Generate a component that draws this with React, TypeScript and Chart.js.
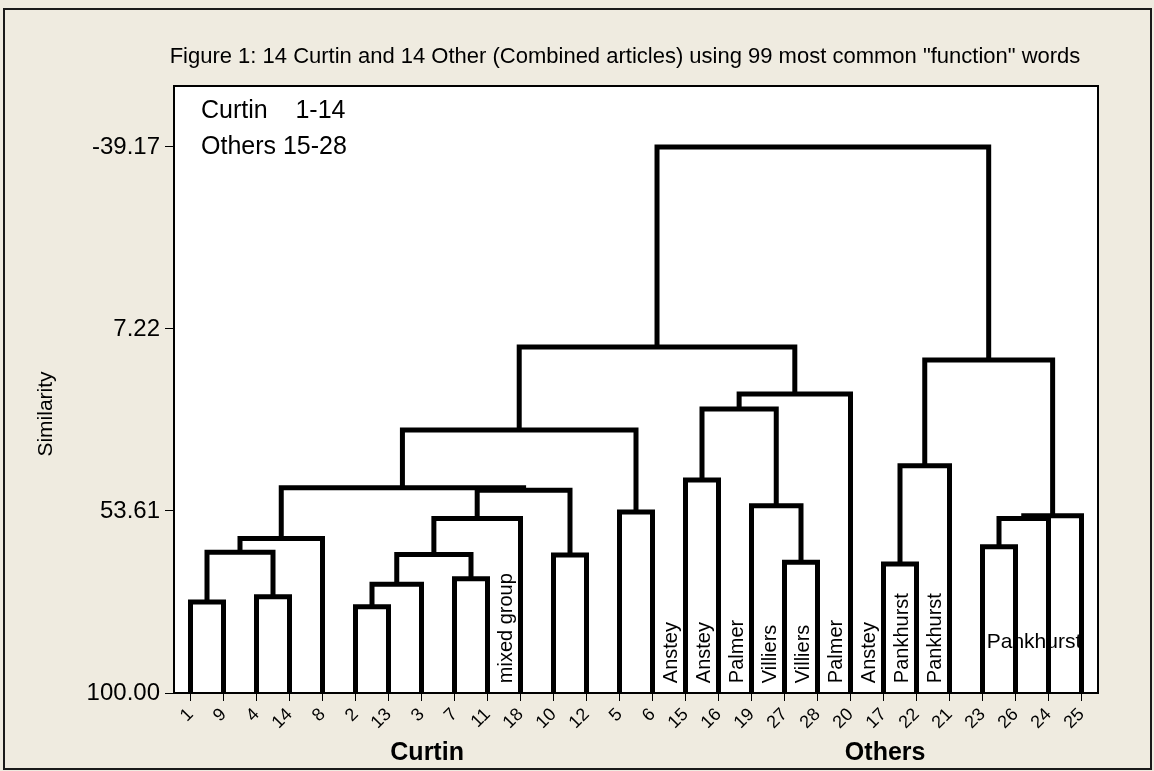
import React, { useEffect, useRef } from "react";
import { Chart, registerables } from "chart.js";

Chart.register(...registerables);

// ---------- data ----------
const leafLabels = [
  "1", "9", "4", "14", "8", "2", "13", "3", "7", "11", "18", "10", "12", "5",
  "6", "15", "16", "19", "27", "28", "20", "17", "22", "21", "23", "26", "24", "25",
];

// Linkage: "L<n>" = leaf n, "M<k>" = merge k
const mergeLeft = [
  "L1", "L4", "M0", "M2", "L2", "M4", "L7", "M5", "M7", "L10", "M8", "M3", "L5", "M11",
  "L15", "L27", "L19", "M14", "M17", "M13", "L17", "M20", "L23", "M22", "M23", "M21", "M19",
];
const mergeRight = [
  "L9", "L14", "M1", "L8", "L13", "L3", "L11", "M6", "L18", "L12", "M9", "M10", "L6", "M12",
  "L16", "L28", "M15", "M16", "L20", "M18", "L22", "L21", "L26", "L24", "L25", "M24", "M25",
];
const mergeHeight = [
  76.8, 75.5, 64.1, 60.6, 78.0, 72.3, 70.9, 64.7, 55.5, 64.8, 48.3, 47.7, 53.9, 33.0,
  45.7, 66.7, 52.3, 27.6, 23.8, 11.8, 67.1, 42.1, 62.7, 55.5, 54.8, 15.1, -39.17,
];

const yTickValues = [-39.17, 7.22, 53.61, 100.0];
const yMin = -54.7;
const yMax = 100;

const titleText =
  'Figure 1: 14 Curtin and 14 Other (Combined articles) using 99 most common "function" words';
const yAxisTitle = "Similarity";
const legendLines = ["Curtin    1-14", "Others 15-28"];

const groupNames = ["Curtin", "Others"];
const noteLeaves = ["18", "15", "16", "19", "27", "28", "20", "17", "22", "21"];
const noteTexts = [
  "mixed group", "Anstey", "Anstey", "Palmer", "Villiers", "Villiers", "Palmer",
  "Anstey", "Pankhurst", "Pankhurst",
];
const flatNote = "Pankhurst";

// ---------- layout (not data) ----------
const FONT = "'Liberation Sans', Arial, sans-serif";
const BG = "#EFEBE0";
const layoutPos = {
  groupCenters: [7.17, 21.05], // in leaf-index units
  flatNoteX: 25.56,
  flatNoteY: 88.5,
  noteBottomValue: 97.5,
  noteOffsetPx: -14,
};

// ---------- build segments ----------
function buildSegments() {
  const xs: number[] = [];
  const hs: number[] = [];
  const pos = (id: string) => {
    const n = id.slice(1);
    if (id[0] === "L") return { x: leafLabels.indexOf(n), h: 100 };
    const k = parseInt(n, 10);
    return { x: xs[k], h: hs[k] };
  };
  const segs: { x: number; y: number }[][] = [];
  for (let k = 0; k < mergeHeight.length; k++) {
    const l = pos(mergeLeft[k]);
    const r = pos(mergeRight[k]);
    const h = mergeHeight[k];
    xs[k] = (l.x + r.x) / 2;
    hs[k] = h;
    segs.push([
      { x: l.x, y: l.h },
      { x: l.x, y: h },
      { x: r.x, y: h },
      { x: r.x, y: r.h },
    ]);
  }
  return segs;
}

const decor = {
  id: "decor",
  beforeDraw(chart: any) {
    const { ctx, chartArea: a, width, height } = chart;
    ctx.save();
    ctx.fillStyle = BG;
    ctx.fillRect(0, 0, width, height);
    ctx.fillStyle = "#ffffff";
    ctx.fillRect(a.left, a.top, a.right - a.left, a.bottom - a.top);
    ctx.strokeStyle = "#1a1a1a";
    ctx.lineWidth = 2;
    ctx.strokeRect(4, 9, width - 7, height - 11);
    ctx.restore();
  },
  beforeDatasetsDraw(chart: any) {
    const { ctx } = chart;
    const xs = chart.scales.x;
    const ys = chart.scales.y;
    ctx.save();
    ctx.fillStyle = "#000";
    ctx.font = `20px ${FONT}`;
    const yb = ys.getPixelForValue(layoutPos.noteBottomValue);
    noteLeaves.forEach((leaf, i) => {
      const x = xs.getPixelForValue(leafLabels.indexOf(leaf)) + layoutPos.noteOffsetPx;
      ctx.save();
      ctx.translate(x, yb);
      ctx.rotate(-Math.PI / 2);
      ctx.textAlign = "left";
      ctx.textBaseline = "middle";
      ctx.fillText(noteTexts[i], 0, 0);
      ctx.restore();
    });
    ctx.textAlign = "center";
    ctx.textBaseline = "alphabetic";
    ctx.font = `21px ${FONT}`;
    ctx.fillText(
      flatNote,
      xs.getPixelForValue(layoutPos.flatNoteX),
      ys.getPixelForValue(layoutPos.flatNoteY)
    );
    ctx.restore();
  },
  afterDraw(chart: any) {
    const { ctx, chartArea: a } = chart;
    const xs = chart.scales.x;
    ctx.save();
    ctx.strokeStyle = "#000";
    ctx.lineWidth = 2;
    ctx.strokeRect(a.left, a.top, a.right - a.left, a.bottom - a.top);

    ctx.fillStyle = "#000";
    // title
    ctx.font = `22px ${FONT}`;
    ctx.textAlign = "center";
    ctx.textBaseline = "middle";
    ctx.fillText(titleText, 625, 57);

    // y axis title
    ctx.save();
    ctx.translate(46, 414);
    ctx.rotate(-Math.PI / 2);
    ctx.font = `21px ${FONT}`;
    ctx.textAlign = "center";
    ctx.textBaseline = "middle";
    ctx.fillText(yAxisTitle, 0, 0);
    ctx.restore();

    // legend text
    ctx.font = `25px ${FONT}`;
    ctx.textAlign = "left";
    ctx.textBaseline = "alphabetic";
    ctx.fillText(legendLines[0], a.left + 27, a.top + 32);
    ctx.fillText(legendLines[1], a.left + 27, a.top + 68);

    // group labels
    ctx.font = `bold 25px ${FONT}`;
    ctx.textAlign = "center";
    groupNames.forEach((g, i) => {
      ctx.fillText(g, xs.getPixelForValue(layoutPos.groupCenters[i]), 760);
    });
    ctx.restore();
  },
};

export default function App() {
  const ref = useRef<HTMLCanvasElement | null>(null);
  useEffect(() => {
    if (!ref.current) return;
    const segs = buildSegments();
    const chart = new Chart(ref.current, {
      type: "scatter",
      data: {
        datasets: segs.map((s) => ({
          data: s,
          showLine: true,
          borderColor: "#000",
          backgroundColor: "#000",
          borderWidth: 5,
          pointRadius: 0,
          pointHoverRadius: 0,
          borderJoinStyle: "miter" as const,
          borderCapStyle: "butt" as const,
          tension: 0,
          fill: false,
        })),
      },
      options: {
        animation: false,
        responsive: false,
        devicePixelRatio: 1,
        events: [],
        layout: { padding: { left: 0, top: 86, right: 56, bottom: 0 } },
        plugins: {
          legend: { display: false },
          tooltip: { enabled: false },
          title: { display: false },
        },
        scales: {
          x: {
            type: "linear",
            min: -0.5,
            max: 27.5,
            afterBuildTicks: (s: any) => {
              s.ticks = leafLabels.map((_, i) => ({ value: i }));
            },
            afterFit: (s: any) => {
              s.height = 78;
            },
            ticks: {
              autoSkip: false,
              minRotation: 45,
              maxRotation: 45,
              padding: 3,
              color: "#000",
              font: { family: FONT, size: 18 },
              callback: (v: any) => leafLabels[Math.round(Number(v))] ?? "",
            },
            grid: {
              drawOnChartArea: false,
              drawTicks: true,
              tickLength: 8,
              color: "#000",
              lineWidth: 1,
            },
            border: { display: true, color: "#000", width: 2 },
          },
          y: {
            type: "linear",
            reverse: true,
            min: yMin,
            max: yMax,
            afterBuildTicks: (s: any) => {
              s.ticks = yTickValues.map((v) => ({ value: v }));
            },
            afterFit: (s: any) => {
              s.width = 174;
            },
            ticks: {
              autoSkip: false,
              padding: 5,
              color: "#000",
              font: { family: FONT, size: 24 },
              callback: (v: any) => Number(v).toFixed(2),
            },
            grid: {
              drawOnChartArea: false,
              drawTicks: true,
              tickLength: 9,
              color: "#000",
              lineWidth: 1,
            },
            border: { display: true, color: "#000", width: 2 },
          },
        },
      },
      plugins: [decor],
    });
    return () => chart.destroy();
  }, []);

  return (
    <div
      style={{
        position: "fixed",
        left: 0,
        top: 0,
        width: 1154,
        height: 771,
        background: BG,
      }}
    >
      <canvas ref={ref} width={1154} height={771} style={{ display: "block" }} />
    </div>
  );
}
